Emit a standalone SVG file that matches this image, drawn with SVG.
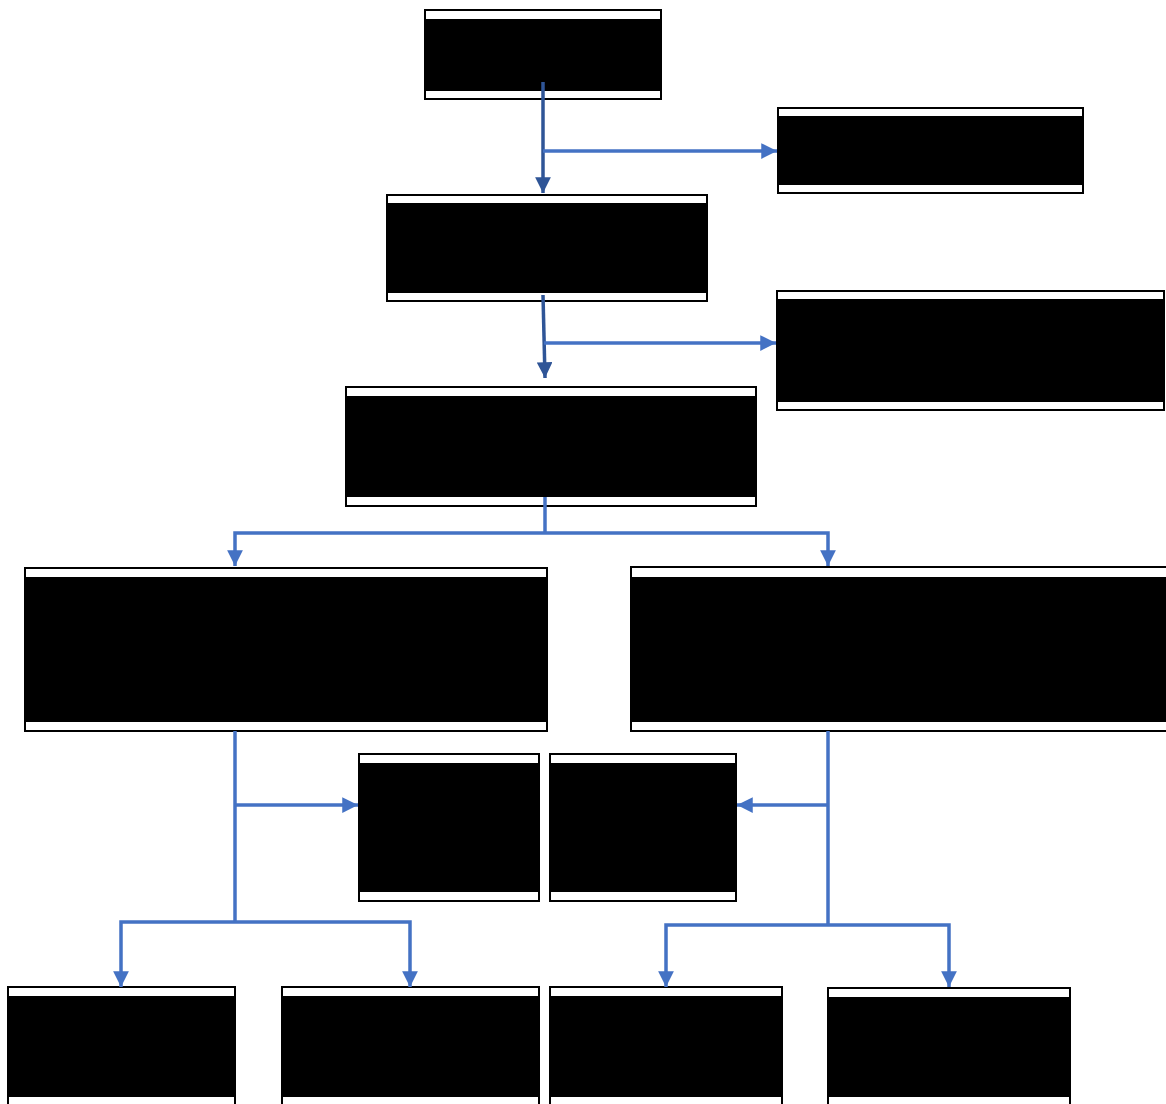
<svg xmlns="http://www.w3.org/2000/svg" width="1166" height="1104" viewBox="0 0 1166 1104">
<style>
.box{fill:#fff;stroke:#000;stroke-width:2}
.ink{fill:#000}
.c{fill:none;stroke:#4472C4;stroke-width:3.5}
.d{fill:none;stroke:#2F5597;stroke-width:3.5}
</style>
<defs>
<marker id="a" viewBox="0 0 10 10" refX="10" refY="5" markerWidth="4.5" markerHeight="4.5" markerUnits="strokeWidth" orient="auto"><path d="M0,0L10,5L0,10Z" fill="#4472C4"/></marker>
<marker id="ad" viewBox="0 0 10 10" refX="10" refY="5" markerWidth="4.5" markerHeight="4.5" markerUnits="strokeWidth" orient="auto"><path d="M0,0L10,5L0,10Z" fill="#2F5597"/></marker>
</defs>
<rect width="1166" height="1104" fill="#fff"/>
<g id="n1"><rect class="box" x="425" y="10" width="236" height="89"/><rect class="ink" x="426" y="19" width="234" height="72"/></g>
<g id="n2"><rect class="box" x="778" y="108" width="305" height="85"/><rect class="ink" x="779" y="116" width="303" height="69"/></g>
<g id="n3"><rect class="box" x="387" y="195" width="320" height="106"/><rect class="ink" x="388" y="203" width="318" height="90"/></g>
<g id="n4"><rect class="box" x="777" y="291" width="387" height="119"/><rect class="ink" x="778" y="299" width="385" height="103"/></g>
<g id="n5"><rect class="box" x="346" y="387" width="410" height="119"/><rect class="ink" x="347" y="396" width="408" height="101"/></g>
<g id="n6"><rect class="box" x="25" y="568" width="522" height="163"/><rect class="ink" x="26" y="577" width="520" height="145"/></g>
<g id="n7"><rect class="box" x="631" y="567" width="545" height="164"/><rect class="ink" x="632" y="577" width="543" height="145"/></g>
<g id="n8"><rect class="box" x="359" y="754" width="180" height="147"/><rect class="ink" x="360" y="763" width="178" height="129"/></g>
<g id="n9"><rect class="box" x="550" y="754" width="186" height="147"/><rect class="ink" x="551" y="763" width="184" height="129"/></g>
<g id="n10"><rect class="box" x="8" y="987" width="227" height="130"/><rect class="ink" x="9" y="996" width="225" height="101"/></g>
<g id="n11"><rect class="box" x="282" y="987" width="257" height="130"/><rect class="ink" x="283" y="996" width="255" height="101"/></g>
<g id="n12"><rect class="box" x="550" y="987" width="232" height="130"/><rect class="ink" x="551" y="996" width="230" height="101"/></g>
<g id="n13"><rect class="box" x="828" y="988" width="242" height="130"/><rect class="ink" x="829" y="997" width="240" height="100"/></g>
<g id="connectors">
<path class="d" d="M543,82V193" marker-end="url(#ad)"/>
<path class="c" d="M543,151H777" marker-end="url(#a)"/>
<path class="d" d="M543,295L545,378" marker-end="url(#ad)"/>
<path class="c" d="M544,343H776" marker-end="url(#a)"/>
<path class="c" d="M545,497V533"/>
<path class="c" d="M545,533H235V566" marker-end="url(#a)"/>
<path class="c" d="M545,533H828V566" marker-end="url(#a)"/>
<path class="c" d="M235,731V922"/>
<path class="c" d="M235,805H358" marker-end="url(#a)"/>
<path class="c" d="M235,922H121V987" marker-end="url(#a)"/>
<path class="c" d="M235,922H410V987" marker-end="url(#a)"/>
<path class="c" d="M828,731V925"/>
<path class="c" d="M828,805H737" marker-end="url(#a)"/>
<path class="c" d="M828,925H666V987" marker-end="url(#a)"/>
<path class="c" d="M828,925H949V987" marker-end="url(#a)"/>
</g>
</svg>
